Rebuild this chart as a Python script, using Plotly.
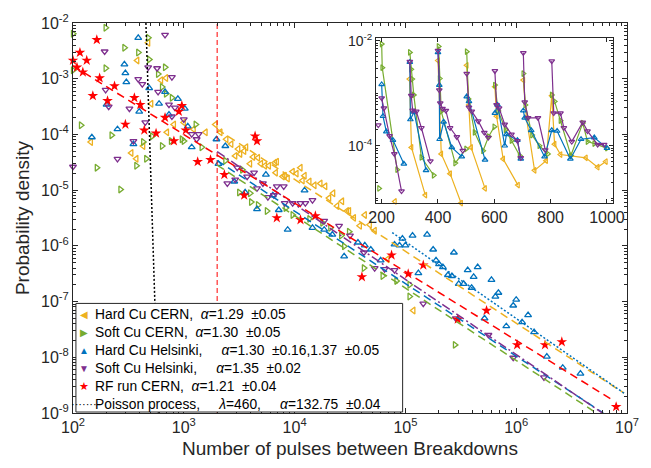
import plotly.graph_objects as go

# ---------------- main panel data ----------------
hard_cern_x = [145, 336, 373, 380, 430, 477, 508, 623, 691, 705, 814, 1000, 1228, 1572,
               1931, 2140, 2420, 2683, 2912, 3097, 3228, 3506, 3652, 3963, 4217, 4673, 4970,
               5397, 5861, 6629, 6910, 6761, 7811, 8141, 8660, 9600, 1.04e4, 1.13e4, 1.18e4,
               1.23e4, 1.36e4, 1.51e4, 1.71e4, 1.89e4, 2.05e4, 2.23e4, 2.42e4, 2.68e4, 2.97e4,
               3.1e4, 3.43e4, 3.88e4, 4.3e4, 4.77e4, 5.28e4, 6.9e4, 1.18e5]
hard_cern_y = [7.3e-5, 4.66e-5, 3.65e-5, 2.13e-3, 6.2e-5, 4.43e-3, 3.56e-4, 9.4e-4, 1.03e-3, 1.09e-4,
               1.51e-4, 1.64e-4, 1.24e-4, 1.09e-4,
               1.51e-4, 1.09e-4, 8.2e-5, 6.7e-5, 4.12e-5, 5.48e-5, 4.47e-5, 5.05e-5, 5.9e-5, 2.97e-5,
               3.95e-5, 3.8e-5, 2.97e-5, 2.74e-5, 2.74e-5, 3.1e-5, 3.23e-5, 2.06e-5, 1.75e-5, 1.82e-5,
               1.62e-5, 2.15e-5, 1.98e-5, 2.53e-5, 1.49e-5, 1.82e-5, 1.43e-5, 1.22e-5, 1.32e-5, 1.17e-5,
               7.2e-6, 8.8e-6, 5.2e-6, 6.3e-6, 4.22e-6, 4.22e-6, 3.18e-6, 2.29e-6, 3.59e-6, 2.39e-6,
               1.87e-6, 5.75e-7, 6.9e-8]

soft_cern_x = [100, 100, 118, 164, 197, 197, 223, 268, 291, 373, 388, 430, 458, 477, 487, 518,
               586, 636, 636, 677, 691, 766, 781, 960, 1000, 1280, 1449, 2371, 3162, 3365, 3963,
               4050, 4673, 5623, 8310, 9600, 1.36e4, 1.78e4, 2.1e4, 2.63e4, 2.8e4, 3.1e4, 4.22e4,
               6.23e4, 8.3e4, 1.09e5, 1.09e5, 2.8e5]
soft_cern_y = [6.4e-3, 1.42e-3, 1.46e-4, 2.53e-5, 8.2e-3, 1.54e-3, 9.7e-5, 1.03e-5, 3.6e-3, 2.74e-5,
               2.95e-3, 7.3e-5, 3.65e-5, 5.43e-3, 2.22e-3, 9.3e-5, 1.21e-3, 7.1e-4, 6.2e-5, 1.6e-3,
               5.35e-4, 7.6e-5, 4.54e-4, 8.2e-5, 7.6e-5, 1.51e-4, 5.9e-5, 3.36e-5, 9.1e-6, 2.33e-5,
               8.8e-6, 6.1e-6, 5.4e-6, 4.22e-6, 4.77e-6, 3.59e-6, 3.05e-6, 2.59e-6, 2.11e-6, 1.53e-6,
               9.8e-7, 1.8e-6, 3.99e-7, 2.88e-7, 2.35e-7, 2.0e-7, 1.23e-7, 1.67e-8]

hard_hel_x = [148, 201, 252, 291, 297, 303, 351, 388, 396, 487, 598, 677, 735, 884, 1021, 1086,
              1179, 1971, 2054, 2371, 2853, 3578, 4579, 5508, 6362, 7197, 8660, 1.23e4, 1.45e4,
              1.85e4, 2.19e4, 2.8e4, 3.73e4, 4.3e4, 4.87e4, 5.98e4, 7.98e4, 8.84e4, 9.4e4, 1.0e5,
              1.16e5, 1.31e5, 1.57e5, 1.78e5, 1.89e5, 2.01e5, 2.18e5, 2.42e5, 2.63e5, 2.74e5,
              3.03e5, 3.36e5, 3.65e5, 3.96e5, 4.13e5, 4.49e5, 5.18e5, 5.98e5, 6.49e5, 6.91e5,
              8.14e5, 9.4e5, 1.0e6, 1.13e6, 1.28e6, 1.45e6, 1.89e6, 2.63e6, 3.8e6]
hard_hel_y = [8.9e-5, 3.42e-4, 1.24e-4, 1.81e-3, 1.26e-3, 8.7e-4, 6.7e-5, 5.43e-3, 2.57e-4, 6.8e-4,
              3.56e-4, 5.8e-4, 2.27e-4, 4.36e-4, 2.9e-4, 1.4e-4, 5.9e-5, 8.2e-5, 2.97e-5, 6.2e-5,
              1.43e-5, 9.1e-6, 4.58e-6, 1.9e-5, 8.1e-6, 4.4e-6, 1.95e-6, 9.9e-6, 2.11e-6, 1.95e-6,
              1.59e-6, 6.5e-7, 1.15e-6, 1.02e-6, 8.6e-7, 5.5e-7, 1.06e-6, 1.02e-6, 1.35e-6, 1.02e-6,
              1.53e-6, 3.25e-7, 1.59e-6, 8.6e-7, 5.5e-7, 4.69e-7, 4.15e-7, 3.0e-7, 2.88e-7, 7.6e-7,
              2.08e-7, 2.08e-7, 3.67e-7, 1.77e-7, 2.77e-7, 4.15e-7, 5.0e-8, 2.45e-7, 1.23e-7, 1.44e-7,
              3.61e-8, 8.5e-8, 1.08e-7, 4.26e-8, 5.7e-8, 2.83e-8, 1.03e-8, 6.5e-9, 5.1e-9]

soft_hel_x = [100, 193, 197, 210, 252, 323, 351, 388, 422, 449, 477, 574, 586, 677, 735, 781, 831,
              781, 1000, 1179, 1361, 1306, 2471, 2912, 3036, 3728, 4305, 4579, 5180, 5741, 6910,
              7980, 6493, 8140, 9600, 1.13e4, 1.25e4, 1.45e4, 1.85e4, 2.52e4, 3.16e4, 4.22e4,
              5.28e4, 6.49e4, 7.98e4, 1.45e5, 2.85e5, 5.62e5, 9.4e5, 1.78e6]
soft_hel_y = [2.63e-5, 3.08e-3, 6.3e-4, 3.15e-4, 3.65e-5, 2.9e-4, 7.6e-5, 9.8e-4, 8.0e-4, 1.64e-4,
              1.6e-3, 1.54e-3, 5.8e-4, 6.1e-3, 3.42e-4, 1.07e-3, 3.03e-4, 2.1e-4, 1.86e-4, 1.01e-4,
              1.01e-4, 8.2e-5, 1.32e-5, 1.55e-5, 2.53e-5, 1.75e-5, 2.06e-5, 1.08e-5, 1.32e-5, 7.5e-6,
              1.17e-5, 1.17e-5, 8.1e-6, 5.85e-6, 5.85e-6, 5.85e-6, 5.85e-6, 6.6e-6, 2.81e-6, 2.29e-6,
              1.53e-6, 7.6e-7, 3.99e-7, 3.83e-7, 3.67e-7, 9.2e-8, 5.0e-8, 2.51e-8, 9.8e-9, 4.36e-9]

rf_x = [100, 108.6, 115.5, 122.7, 133, 151, 164, 174, 205, 237, 297, 358, 405, 440, 562, 677,
        814, 902, 960, 1042, 1334, 1742, 2323, 3508, 4400, 4580, 6910, 1.13e4, 1.54e4, 4.05e4,
        7.5e4, 1.06e5, 1.45e5, 2.97e5, 5.4e5, 1.02e6, 1.82e6, 2.58e6, 7.98e6]
rf_y = [2.13e-3, 1.6e-3, 2.95e-3, 1.31e-3, 2.13e-3, 4.93e-4, 5.0e-3, 1.03e-3, 4.02e-4, 7.4e-4,
        1.51e-4, 4.54e-4, 3.42e-4, 1.19e-4, 1.05e-4, 2.01e-4, 7.6e-5, 2.57e-4, 3.28e-4, 1.19e-4,
        3.23e-5, 3.5e-5, 1.9e-5, 8.1e-6, 9.3e-5, 7.6e-5, 3.18e-6, 2.93e-6, 3.44e-6, 2.77e-7,
        6.8e-7, 3.13e-7, 4.5e-7, 4.8e-8, 6.9e-8, 1.67e-8, 1.67e-8, 1.89e-8, 1.29e-9]

# fitted power laws (end points)
fit_hard_cern_x = [2000, 9.4e6]
fit_hard_cern_y = [1.24e-4, 2.27e-9]
fit_soft_cern_x = [2000, 5.3e6]
fit_soft_cern_y = [2.82e-5, 1.0e-9]
fit_hard_hel_x = [2000, 6.1e6]
fit_hard_hel_y = [3.4e-5, 1.0e-9]
fit_hard_hel2_x = [7.6e4, 9.4e6]
fit_hard_hel2_y = [1.73e-6, 2.27e-9]
fit_soft_hel_x = [2000, 6.0e6]
fit_soft_hel_y = [4.9e-5, 1.0e-9]
fit_rf_x = [100, 7.4e6]
fit_rf_y = [1.7e-3, 1.71e-9]
poisson_x = [455, 590]
poisson_y = [1.0e-2, 1.0e-9]
threshold_x = [2000, 2000]
threshold_y = [1.0e-9, 1.0e-2]

# ---------------- inset data (None separates the bursts) ----------------
in_hard_cern_x = [247, None, 298.8, 305.8, 355, None, 400, 411.6, 443, 482, None, 502, 510, 517.5, 567,
                  None, 602, 608, 631.5, 684, None, 703, 714, 743, 784, 804, 814, 835, 870, 925, 967, 996]
in_hard_cern_y = [8.7e-6, None, 1.86e-3, 9.3e-5, 1.15e-5, None, 4.2e-3, 7.0e-5, 2.94e-5, 8.1e-6, None,
                  3.4e-3, 6.0e-4, 9.3e-5, 1.54e-5, None, 1.33e-3, 3.65e-4, 5.6e-5, 1.78e-5, None,
                  1.78e-3, 3.4e-4, 3.4e-5, 5.2e-5, 9.0e-4, 1.07e-4, 6.8e-5, 6.5e-5, 5.9e-5, 3.9e-5, 5.0e-5]

in_soft_cern_x = [190.6, None, 200, 202, 255, None, 300, 304.6, 308, 314, 341, 384.6, None, 402, 405.8,
                  411.6, 461, 500, None, 502, 508, 530, 560, 580, 600, None, 602, 614, 640, 661, 690,
                  None, 703, 710, 734, 760, 790, None, 804, 814, 835, 872, 914, 931, 955, 1000]
in_soft_cern_y = [1.54e-5, None, 8.66e-3, 3.07e-3, 3.5e-5, None, 6.0e-3, 2.86e-3, 1.86e-3, 9.3e-4, 6.0e-5,
                  2.74e-5, None, 7.8e-3, 1.91e-3, 4.53e-4, 4.67e-5, 8.7e-5, None, 6.2e-3, 7.8e-4, 1.8e-4,
                  8.0e-5, 1.5e-4, 2.3e-4, None, 1.43e-3, 4.6e-4, 2.0e-4, 1.25e-4, 6.5e-5, None, 2.37e-3,
                  6.0e-4, 1.6e-4, 1.0e-4, 7.0e-5, None, 9.3e-4, 7.0e-4, 3.0e-4, 6.5e-5, 2.7e-4, 1.2e-4,
                  1.1e-4, 9.0e-5]

in_hard_hel_x = [200, 204.7, 216.5, 240, 278.8, None, 300, 302, 315, 357.5, None, 400, 404.6, 405.8, 420,
                 449, 484.5, None, 502, 510, 567, None, 602, 611.5, 637, 643, 682, 694, None, 703, 708,
                 731, 778.5, 804, 823, 870, 908, 955, 1000]
in_hard_hel_y = [1.47e-3, 3.65e-4, 1.86e-4, 1.28e-4, 4.53e-5, None, 3.9e-3, 3.16e-4, 4.4e-4, 3.4e-5, None,
                 6.0e-3, 1.43e-3, 1.33e-4, 2.86e-4, 9.3e-5, 6.2e-5, None, 8.66e-4, 7.0e-4, 5.4e-5, None,
                 4.2e-4, 6.0e-4, 1.0e-4, 1.65e-4, 1.28e-4, 5.6e-5, None, 4.67e-4, 3.4e-4, 1.97e-4, 6.2e-5,
                 1.97e-4, 1.91e-4, 5.6e-5, 1.33e-4, 1.43e-4, 9.0e-5]

in_soft_hel_x = [188, None, 200, 208, 228, 245, 270.5, None, 300, 305, 310, 323, 341, 373, None, 400, 404.6,
                 408, 416, 428, 443, 467, 488, None, 502, 510, 520, 543, 564.5, 578.6, None, 602, 608, 617,
                 637, 661, 682, 694, None, 703, 708, 720, 755, 781, None, 804, 811, 835, 847, 875, 914,
                 931, 967, 990]
in_soft_hel_y = [2.48e-4, None, 8.1e-4, 5.2e-4, 1.54e-4, 7.0e-5, 1.37e-5, None, 4.0e-3, 9.0e-4, 4.7e-4,
                 4.5e-4, 2.2e-4, 5.1e-5, None, 6.5e-3, 1.15e-3, 6.5e-4, 5.1e-4, 4.67e-4, 2.2e-4, 1.47e-4,
                 8.1e-5, None, 2.37e-3, 5.4e-4, 4.53e-4, 2.94e-4, 1.78e-4, 1.43e-4, None, 2.66e-3, 6.0e-4,
                 5.2e-4, 2.55e-4, 1.65e-4, 1.24e-4, 5.9e-5, None, 5.9e-3, 6.8e-4, 3.4e-4, 3.4e-4, 8.3e-5,
                 None, 4.1e-3, 4.2e-4, 4.2e-4, 2.2e-4, 1.2e-4, 2.8e-4, 1.9e-4, 1.05e-4, 1.05e-4]

main_x_ticks = [1e2, 1e3, 1e4, 1e5, 1e6, 1e7]
main_x_labels = ["10<sup>2</sup>", "10<sup>3</sup>", "10<sup>4</sup>", "10<sup>5</sup>",
                 "10<sup>6</sup>", "10<sup>7</sup>"]
main_y_ticks = [1e-9, 1e-8, 1e-7, 1e-6, 1e-5, 1e-4, 1e-3, 1e-2]
main_y_labels = ["10<sup>-9</sup>", "10<sup>-8</sup>", "10<sup>-7</sup>", "10<sup>-6</sup>",
                 "10<sup>-5</sup>", "10<sup>-4</sup>", "10<sup>-3</sup>", "10<sup>-2</sup>"]
inset_x_ticks = [200, 400, 600, 800, 1000]
inset_y_ticks = [1e-4, 1e-2]
inset_y_labels = ["10<sup>-4</sup>", "10<sup>-2</sup>"]

NB = "\u00a0"
legend_labels = [
    f"Hard Cu CERN,{NB*2}<i>α</i>=1.29{NB*2}±0.05",
    f"Soft Cu CERN,{NB*2}<i>α</i>=1.30{NB*2}±0.05",
    f"Hard Cu Helsinki,{NB*5}<i>α</i>=1.30{NB*2}±0.16,1.37{NB*2}±0.05",
    f"Soft Cu Helsinki,{NB*5}<i>α</i>=1.35{NB*2}±0.02",
    f"RF run CERN,{NB*2}<i>α</i>=1.21{NB*2}±0.04",
    f"Poisson process,{NB*5}<i>λ</i>=460,{NB*5}<i>α</i>=132.75{NB*2}±0.04",
]

# ---------------- styling ----------------
ORANGE = "#EDB120"
GREEN = "#77AC30"
BLUE = "#0072BD"
PURPLE = "#7E2F8E"
RED = "#FF0000"
AX = "#262626"
FONT = "Liberation Sans, Arial, Helvetica, sans-serif"

fig = go.Figure()

series = [
    (hard_cern_x, hard_cern_y, ORANGE, "triangle-left-open", legend_labels[0]),
    (soft_cern_x, soft_cern_y, GREEN, "triangle-right-open", legend_labels[1]),
    (hard_hel_x, hard_hel_y, BLUE, "triangle-up-open", legend_labels[2]),
    (soft_hel_x, soft_hel_y, PURPLE, "triangle-down-open", legend_labels[3]),
]
for xs, ys, col, sym, name in series:
    fig.add_trace(go.Scatter(x=xs, y=ys, mode="markers", name=name, cliponaxis=False, showlegend=False,
                             marker=dict(symbol=sym, size=6, color=col, line=dict(width=1.3, color=col))))
fig.add_trace(go.Scatter(x=rf_x, y=rf_y, mode="markers", cliponaxis=False, showlegend=False,
                         name=legend_labels[4],
                         marker=dict(symbol="star", size=8, color=RED, line=dict(width=0))))
fig.add_trace(go.Scatter(x=poisson_x, y=poisson_y, mode="lines", showlegend=False,
                         name=legend_labels[5],
                         line=dict(color="black", width=1.5, dash="2px,2px")))

fits = [
    (threshold_x, threshold_y, RED, "5px,3px", 1.0),
    (fit_hard_cern_x, fit_hard_cern_y, ORANGE, "8px,5px", 1.5),
    (fit_soft_cern_x, fit_soft_cern_y, GREEN, "8px,5px", 1.5),
    (fit_hard_hel_x, fit_hard_hel_y, BLUE, "8px,5px", 1.5),
    (fit_soft_hel_x, fit_soft_hel_y, PURPLE, "9px,3px,2px,3px", 1.5),
    (fit_rf_x, fit_rf_y, RED, "8px,5px", 1.5),
    (fit_hard_hel2_x, fit_hard_hel2_y, BLUE, "2px,2px", 1.5),
]
for xs, ys, col, dash, w in fits:
    fig.add_trace(go.Scatter(x=xs, y=ys, mode="lines", showlegend=False, hoverinfo="skip",
                             line=dict(color=col, width=w, dash=dash)))

inset = [
    (in_hard_cern_x, in_hard_cern_y, ORANGE, "triangle-left-open"),
    (in_soft_cern_x, in_soft_cern_y, GREEN, "triangle-right-open"),
    (in_hard_hel_x, in_hard_hel_y, BLUE, "triangle-up-open"),
    (in_soft_hel_x, in_soft_hel_y, PURPLE, "triangle-down-open"),
]
for xs, ys, col, sym in inset:
    fig.add_trace(go.Scatter(x=xs, y=ys, mode="lines+markers", xaxis="x2", yaxis="y2",
                             showlegend=False, connectgaps=False, cliponaxis=False,
                             line=dict(color=col, width=1.2),
                             marker=dict(symbol=sym, size=5, color=col, line=dict(width=1.2, color=col))))

main_x_minor = [m * 10 ** e for e in range(2, 7) for m in range(2, 10)]
main_y_minor = [m * 10.0 ** e for e in range(-9, -2) for m in range(2, 10)]
inset_y_minor = [m * 10.0 ** e for e in range(-6, -1) for m in range(1, 10)]

axis_common = dict(showline=True, linecolor=AX, linewidth=1, mirror="allticks", ticks="inside",
                   tickcolor=AX, showgrid=False, zeroline=False)

# legend box drawn as a framed panel with a symbol column and a text column
legend_symbols = [
    f'<span style="color:{ORANGE};font-size:10px">◀</span>',
    f'<span style="color:{GREEN};font-size:10px">▶</span>',
    f'<span style="color:{BLUE};font-size:10px">▲</span>',
    f'<span style="color:{PURPLE};font-size:10px">▼</span>',
    f'<span style="color:{RED};font-size:11px">★</span>',
    '<span style="color:black;font-size:11px">·······</span>',
]

fig.update_layout(
    width=651, height=468,
    margin=dict(l=73, r=17, t=17, b=55),
    paper_bgcolor="white", plot_bgcolor="white",
    font=dict(family=FONT, color=AX),
    showlegend=False,
    xaxis=dict(type="log", range=[2, 7], domain=[0, 1], tickmode="array", tickvals=main_x_ticks,
               ticktext=main_x_labels, ticklen=5, tickfont=dict(size=16, color=AX, family=FONT),
               minor=dict(tickmode="array", tickvals=main_x_minor, ticks="inside", ticklen=3, tickcolor=AX),
               title=dict(text="Number of pulses between Breakdowns", font=dict(size=19, color=AX), standoff=6),
               **axis_common),
    yaxis=dict(type="log", range=[-9, -2], domain=[0, 1], tickmode="array", tickvals=main_y_ticks,
               ticktext=main_y_labels, ticklen=5, tickfont=dict(size=16, color=AX, family=FONT),
               minor=dict(tickmode="array", tickvals=main_y_minor, ticks="inside", ticklen=3, tickcolor=AX),
               title=dict(text="Probability density", font=dict(size=19, color=AX), standoff=6),
               **axis_common),
    xaxis2=dict(anchor="y2", domain=[0.547, 0.975], range=[180, 1022], tickmode="array",
                tickvals=inset_x_ticks, ticklen=4, tickfont=dict(size=16, color=AX, family=FONT),
                **axis_common),
    yaxis2=dict(anchor="x2", type="log", domain=[0.538, 0.962], range=[-5.094, -1.944], tickmode="array",
                tickvals=inset_y_ticks, ticktext=inset_y_labels, ticklen=4,
                tickfont=dict(size=14, color=AX, family=FONT),
                minor=dict(tickmode="array", tickvals=inset_y_minor, ticks="inside", ticklen=2, tickcolor=AX),
                **axis_common),
    shapes=[dict(type="rect", xref="paper", yref="paper", x0=0.0053, x1=0.595, y0=0.0025, y1=0.281,
                 fillcolor="white", line=dict(color=AX, width=1), layer="above")],
    annotations=[
        dict(xref="paper", yref="paper", x=0.0357, y=0.137, xanchor="left", yanchor="middle",
             align="left", showarrow=False, text="<br>".join(legend_labels),
             font=dict(size=13.8, color="black", family=FONT)),
        dict(xref="paper", yref="paper", x=0.0195, y=0.137, xanchor="center", yanchor="middle",
             align="center", showarrow=False, text="<br>".join(legend_symbols),
             font=dict(size=13.8, color="black", family=FONT)),
    ],
)

fig.write_html("out.html")
